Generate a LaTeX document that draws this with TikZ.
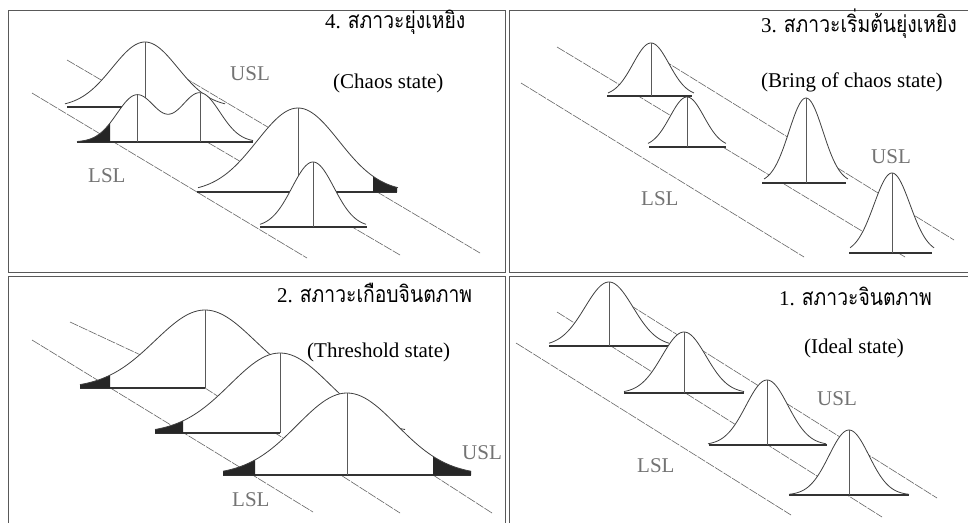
\documentclass[tikz,border=0pt]{standalone}
\usepackage{fontspec}
\usepackage{graphicx}
\setmainfont{Liberation Serif}
\newfontfamily\thaifont[Script=Thai]{Loma}
\newcommand\thaitxt[1]{\scalebox{0.84}[1]{\thaifont\fontsize{23}{23}\selectfont #1}}
\tikzset{
  diag/.style={draw=gray!80!black, line width=0.6pt, dash pattern=on 9pt off 1.2pt},
  curve/.style={draw=black!75, line width=0.8pt},
  vline/.style={draw=black!65, line width=0.8pt},
  basel/.style={draw=black!80, line width=1.2pt},
  tail/.style={fill=black!85},
  frame/.style={draw=gray!70!black, line width=1pt},
  lbl/.style={text=black!55, inner sep=0pt, anchor=base west, font=\fontsize{21}{21}\selectfont},
  ttl/.style={text=black, inner sep=0pt, anchor=base west, font=\fontsize{21}{21}\selectfont},
}
% c, base, h, s, hw
\newcommand\BellFill[5]{\fill[white] ({#1-#5},#2) -- plot[domain=-#5:#5,samples=71] ({#1+\x},{#2-#3*exp(-0.5*(\x/#4)*(\x/#4))}) -- ({#1+#5},#2) -- cycle;}
\newcommand\BellCurve[5]{\draw[curve] plot[domain=-#5:#5,samples=71] ({#1+\x},{#2-#3*exp(-0.5*(\x/#4)*(\x/#4))});}
% c, base, h, s, from, to (offsets)
\newcommand\BellTail[6]{\fill[tail] ({#1+#5},#2) -- plot[domain=#5:#6,samples=20] ({#1+\x},{#2-#3*exp(-0.5*(\x/#4)*(\x/#4))}) -- ({#1+#6},#2) -- cycle;}
% c, base, h, s, hw, base from x, base to x
\newcommand\Dist[7]{\BellFill{#1}{#2}{#3}{#4}{#5}\draw[basel] (#6,#2) -- (#7,#2);}
\newcommand\DistTop[5]{\BellCurve{#1}{#2}{#3}{#4}{#5}\draw[vline] (#1,{#2-#3}) -- (#1,#2);}
\begin{document}
\begin{tikzpicture}[x=1pt,y=-1pt]
\useasboundingbox (0,0) rectangle (968,522);
\clip (0,0) rectangle (968,522);
\fill[white] (0,0) rectangle (968,522);
% frames
\draw[frame] (8,10) rectangle (505,272);
\draw[frame] (509,10) rectangle (980,272);
\draw[frame] (8,276) rectangle (505,535);
\draw[frame] (509,276) rectangle (980,535);

% ===== Panel 4 (top left): Chaos =====
\draw[diag] (32,93) -- (307,258);
\draw[diag] (67,60) -- (400,255);
\draw[diag] (175,72) -- (480,253);
% D1
\Dist{145}{107}{65}{32.6}{80}{67}{145}
\DistTop{145}{107}{65}{32.6}{80}
% D2 bimodal
\fill[white] (77,142) -- plot[domain=77:253,samples=120] (\x,{142-47*exp(-0.5*((\x-137)/20)*((\x-137)/20))-49*exp(-0.5*((\x-200)/20)*((\x-200)/20))}) -- (253,142) -- cycle;
\draw[basel] (77,142) -- (253,142);
\fill[tail] (77,142) -- plot[domain=77:110,samples=20] (\x,{142-47*exp(-0.5*((\x-137)/20)*((\x-137)/20))-49*exp(-0.5*((\x-200)/20)*((\x-200)/20))}) -- (110,142) -- cycle;
\draw[curve] plot[domain=77:253,samples=120] (\x,{142-47*exp(-0.5*((\x-137)/20)*((\x-137)/20))-49*exp(-0.5*((\x-200)/20)*((\x-200)/20))});
\draw[vline] (137,94.7) -- (137,142);
\draw[vline] (200,92.7) -- (200,142);
% D3
\Dist{298}{192}{84}{41}{100}{197}{397}
\BellTail{298}{192}{84}{41}{75}{99}
\DistTop{298}{192}{84}{41}{100}
% D4
\Dist{313}{227}{65}{21}{53}{260}{367}
\DistTop{313}{227}{65}{21}{53}
\node[ttl] (t4) at (325,28) {4. \thaitxt{สภาวะยุ่งเหยิง}};
\node[ttl] (s4) at (333,88) {(Chaos state)};
\node[lbl] (u4) at (230,80) {USL};
\node[lbl] (l4) at (88,182) {LSL};

% ===== Panel 3 (top right): Brink of chaos =====
\draw[diag] (521,83) -- (804,257);
\draw[diag] (557,47) -- (905,257);
\draw[diag] (655,55) -- (954,240);
\Dist{651}{96}{53}{18}{43}{607}{692}
\DistTop{651}{96}{53}{18}{43}
\Dist{687}{147}{50}{17}{39}{649}{726}
\DistTop{687}{147}{50}{17}{39}
\Dist{806}{183}{85}{17}{42}{762}{846}
\DistTop{806}{183}{85}{17}{42}
\Dist{892}{253}{80}{18}{42}{849}{932}
\DistTop{892}{253}{80}{18}{42}
\node[ttl] (t3) at (761,32) {3. \thaitxt{สภาวะเริ่มต้นยุ่งเหยิง}};
\node[ttl] (s3) at (761,87) {(Bring of chaos state)};
\node[lbl] (u3) at (871,163) {USL};
\node[lbl] (l3) at (641,205) {LSL};

% ===== Panel 2 (bottom left): Threshold =====
\draw[diag] (70,322) -- (160,364);
\draw[diag] (32,340) -- (313,512);
\draw[diag] (205,388) -- (400,513);
\draw[diag] (433,475) -- (492,513);
\Dist{205}{388}{78}{50}{125}{80}{205}
\BellTail{205}{388}{78}{50}{-125}{-95}
\DistTop{205}{388}{78}{50}{125}
\Dist{280}{433}{80}{50}{125}{155}{280}
\BellTail{280}{433}{80}{50}{-125}{-97}
\DistTop{280}{433}{80}{50}{125}
\Dist{347}{475}{82}{50}{124}{223}{471}
\BellTail{347}{475}{82}{50}{-124}{-92}
\BellTail{347}{475}{82}{50}{86}{124}
\DistTop{347}{475}{82}{50}{124}
\node[ttl] (t2) at (277,302) {2. \thaitxt{สภาวะเกือบจินตภาพ}};
\node[ttl] (s2) at (307,357) {(Threshold state)};
\node[lbl] (u2) at (462,459) {USL};
\node[lbl] (l2) at (232,506) {LSL};

% ===== Panel 1 (bottom right): Ideal =====
\draw[diag] (516,343) -- (791,515);
\draw[diag] (557,312) -- (882,517);
\draw[diag] (630,305) -- (937,498);
\Dist{609}{346}{64}{24}{60}{549}{669}
\DistTop{609}{346}{64}{24}{60}
\Dist{684}{393}{61}{22}{60}{624}{744}
\DistTop{684}{393}{61}{22}{60}
\Dist{767}{445}{65}{21}{59}{709}{827}
\DistTop{767}{445}{65}{21}{59}
\Dist{849}{495}{65}{20}{60}{789}{909}
\DistTop{849}{495}{65}{20}{60}
\node[ttl] (t1) at (779,305) {1. \thaitxt{สภาวะจินตภาพ}};
\node[ttl] (s1) at (804,353) {(Ideal state)};
\node[lbl] (u1) at (817,405) {USL};
\node[lbl] (l1) at (637,472) {LSL};
\end{tikzpicture}
\end{document}
